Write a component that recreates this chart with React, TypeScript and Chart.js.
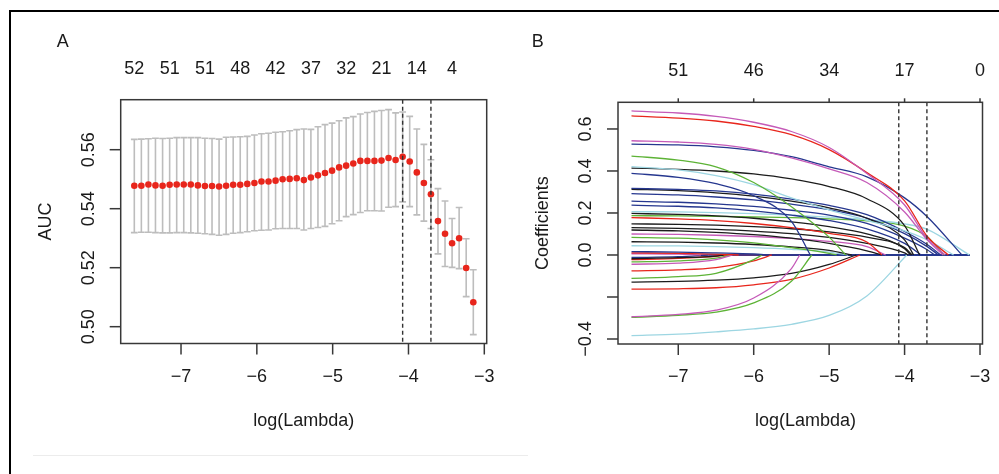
import React, { useEffect, useRef } from "react";
import { Chart, registerables } from "chart.js";

Chart.register(...registerables);

// ---------- Panel A: cross-validated AUC ----------
const logLambdaA = [
  -7.616, -7.523, -7.43, -7.337, -7.243, -7.15, -7.057, -6.964, -6.871, -6.778,
  -6.685, -6.591, -6.498, -6.405, -6.312, -6.219, -6.126, -6.032, -5.939, -5.846,
  -5.753, -5.66, -5.567, -5.474, -5.38, -5.287, -5.194, -5.101, -5.008, -4.915,
  -4.822, -4.728, -4.635, -4.542, -4.449, -4.356, -4.263, -4.17, -4.077, -3.984,
  -3.89, -3.797, -3.704, -3.611, -3.518, -3.425, -3.332, -3.239, -3.145,
];
const aucMean = [
  0.5478, 0.5478, 0.5482, 0.5479, 0.5478, 0.5481, 0.5482, 0.5482, 0.5482, 0.5479,
  0.5477, 0.5477, 0.5475, 0.5478, 0.5481, 0.5481, 0.5484, 0.5487, 0.5492, 0.5492,
  0.5495, 0.55, 0.5501, 0.5503, 0.5497, 0.5506, 0.5513, 0.5521, 0.5529, 0.554,
  0.5546, 0.5553, 0.5562, 0.5562, 0.5562, 0.5563, 0.5572, 0.5565, 0.5576, 0.556,
  0.5523, 0.5487, 0.5449, 0.5358, 0.5315, 0.5283, 0.53, 0.5199, 0.5083,
];
const aucUpper = [
  0.5635, 0.5636, 0.5637, 0.5639, 0.5638, 0.5639, 0.5641, 0.5641, 0.5641, 0.5641,
  0.5639, 0.5638, 0.5636, 0.5642, 0.5643, 0.5644, 0.5645, 0.565, 0.5654, 0.5656,
  0.5659, 0.5661, 0.5664, 0.5668, 0.567, 0.5669, 0.5678, 0.5685, 0.569, 0.5698,
  0.5708, 0.5712, 0.5721, 0.5726, 0.573, 0.5733, 0.5736, 0.5725, 0.5728, 0.5713,
  0.567, 0.5618, 0.5566, 0.5468, 0.5426, 0.5367, 0.5404, 0.5298, 0.5193,
];
const aucLower = [
  0.5319, 0.532, 0.532, 0.5319, 0.5318, 0.5318, 0.5319, 0.5319, 0.5318, 0.5317,
  0.5315, 0.5313, 0.531, 0.5313, 0.5317, 0.5319, 0.5322, 0.5325, 0.5327, 0.5328,
  0.5332, 0.5333, 0.5333, 0.5333, 0.5328, 0.5333, 0.5336, 0.534, 0.5349, 0.5359,
  0.5373, 0.538, 0.5387, 0.5393, 0.5393, 0.5392, 0.5405, 0.5407, 0.5423, 0.5407,
  0.5379, 0.5358, 0.5333, 0.5247, 0.5204, 0.5201, 0.5197, 0.5102, 0.4973,
];
const topPosA = [-7.616, -7.15, -6.685, -6.219, -5.753, -5.287, -4.822, -4.356, -3.89, -3.425];
const topLabelsA = ["52", "51", "51", "48", "42", "37", "32", "21", "14", "4"];
const yTicksA = [0.5, 0.52, 0.54, 0.56];
const yTickLabelsA = ["0.50", "0.52", "0.54", "0.56"];

// ---------- shared ----------
const xTicks = [-7, -6, -5, -4, -3];
const xTickLabels = ["\u22127", "\u22126", "\u22125", "\u22124", "\u22123"];
const lambdaMinLog = -4.077;
const lambda1seLog = -3.704;

// ---------- Panel B: coefficient paths ----------
const topPosB = [-7, -6, -5, -4, -3];
const topLabelsB = ["51", "46", "34", "17", "0"];
const yTicksB = [-0.4, -0.2, 0, 0.2, 0.4, 0.6];
const yTickLabelsB = ["\u22120.4", "", "0.0", "0.2", "0.4", "0.6"];

const coefGrid = [-7.62, -7.0, -6.5, -6.0, -5.5, -5.0, -4.5, -4.0, -3.7];
const lastLogLambda = -3.14;

const K = "#1c1c1c";
const R = "#E8261C";
const G = "#5DB336";
const N = "#26378F";
const C = "#9DD6E2";
const M = "#C55AB8";

const pathColors = [
  M, R, M, N, G, C, K, N, N, K, N, N, N, C, K, G, R, K, K, K, M, G, K, C, N, R, M,
  C, M, G, R, K, G, R, M, G, K, N, R,
];
const pathValues: number[][] = [
  [0.686, 0.676, 0.66, 0.632, 0.588, 0.512, 0.388, 0.238, 0.078],
  [0.662, 0.652, 0.638, 0.612, 0.573, 0.502, 0.392, 0.258, 0.088],
  [0.544, 0.538, 0.527, 0.503, 0.462, 0.41, 0.345, 0.205, 0.072],
  [0.528, 0.524, 0.515, 0.498, 0.468, 0.42, 0.372, 0.272, 0.182],
  [0.471, 0.452, 0.42, 0.345, 0.23, 0.085],
  [0.421, 0.405, 0.378, 0.335, 0.272, 0.215, 0.165, 0.115, 0.072],
  [0.414, 0.408, 0.4, 0.386, 0.362, 0.326, 0.268, 0.14],
  [0.389, 0.37, 0.34, 0.282, 0.16],
  [0.317, 0.312, 0.305, 0.29, 0.266, 0.236, 0.192, 0.112, 0.05],
  [0.313, 0.306, 0.296, 0.28, 0.256, 0.224, 0.175, 0.072],
  [0.292, 0.286, 0.276, 0.262, 0.242, 0.216, 0.176, 0.102, 0.04],
  [0.256, 0.251, 0.243, 0.231, 0.213, 0.19, 0.15, 0.08, 0.025],
  [0.237, 0.232, 0.224, 0.21, 0.19, 0.164, 0.124, 0.055],
  [0.206, 0.205, 0.202, 0.197, 0.19, 0.18, 0.168, 0.148, 0.122],
  [0.198, 0.193, 0.186, 0.175, 0.158, 0.135, 0.1, 0.03],
  [0.187, 0.186, 0.184, 0.181, 0.178, 0.172, 0.162, 0.138, 0.087],
  [0.178, 0.172, 0.164, 0.15, 0.13, 0.103, 0.062],
  [0.148, 0.146, 0.142, 0.135, 0.125, 0.11, 0.085, 0.035],
  [0.13, 0.127, 0.122, 0.114, 0.102, 0.084, 0.055, 0.01],
  [0.119, 0.115, 0.108, 0.097, 0.08, 0.055, 0.02],
  [0.1, 0.098, 0.094, 0.088, 0.079, 0.065, 0.04],
  [0.084, 0.08, 0.072, 0.058, 0.035, 0.008],
  [0.063, 0.061, 0.057, 0.05, 0.039, 0.022],
  [0.044, 0.043, 0.04, 0.035, 0.027, 0.014],
  [0.016, 0.014, 0.01, 0.005],
  [0.01, 0.008, 0.004],
  [0.006, 0.004],
  [-0.384, -0.377, -0.366, -0.352, -0.33, -0.288, -0.195],
  [-0.294, -0.283, -0.263, -0.205, -0.065],
  [-0.297, -0.287, -0.272, -0.228, -0.125],
  [-0.163, -0.161, -0.156, -0.142, -0.116, -0.062],
  [-0.129, -0.126, -0.12, -0.109, -0.088, -0.045],
  [-0.111, -0.103, -0.087, -0.022],
  [-0.076, -0.071, -0.06, -0.028],
  [-0.044, -0.039, -0.022],
  [-0.033, -0.028, -0.015],
  [-0.018, -0.013, -0.005],
  [-0.012, -0.008],
  [-0.022, -0.016, -0.006],
];
const pathZeroAt = [
  -3.46, -3.42, -3.49, -3.24, -4.78, -3.35, -3.8, -5.25, -3.52, -3.88, -3.55, -3.6,
  -3.78, -3.14, -3.92, -3.48, -4.3, -3.9, -3.95, -4.3, -4.25, -4.9, -4.7, -4.75,
  -5.8, -6.2, -6.7, -3.97, -5.39, -5.23, -4.59, -4.64, -5.89, -5.76, -6.28, -6.3,
  -6.4, -6.6, -6.35,
];

const FONT = '18px "Liberation Sans", Arial, Helvetica, sans-serif';
const TEXT = "#1a1a1a";

const rAxesPlugin = {
  id: "rAxes",
  afterDatasetsDraw(chart: any, _args: any, o: any) {
    const { ctx, chartArea: ca } = chart;
    const xs = chart.scales.x;
    const ys = chart.scales.y;
    const seg = (x1: number, y1: number, x2: number, y2: number) => {
      ctx.beginPath();
      ctx.moveTo(x1, y1);
      ctx.lineTo(x2, y2);
      ctx.stroke();
    };
    ctx.save();
    // dashed reference lines
    ctx.strokeStyle = "#333";
    ctx.lineWidth = 1.4;
    ctx.setLineDash([4, 3]);
    for (const v of o.vlines) {
      const px = xs.getPixelForValue(v);
      seg(px, ca.top, px, ca.bottom);
    }
    ctx.setLineDash([]);
    // box
    ctx.strokeStyle = "#383838";
    ctx.lineWidth = 1.5;
    ctx.strokeRect(ca.left, ca.top, ca.right - ca.left, ca.bottom - ca.top);
    ctx.font = FONT;
    ctx.fillStyle = TEXT;
    ctx.textAlign = "center";
    ctx.textBaseline = "middle";
    // bottom axis
    o.xTicks.forEach((v: number, i: number) => {
      const px = xs.getPixelForValue(v);
      seg(px, ca.bottom, px, ca.bottom + o.tickLen);
      ctx.fillText(o.xTickLabels[i], px, o.xLabelY);
    });
    // left axis
    o.yTicks.forEach((v: number, i: number) => {
      const py = ys.getPixelForValue(v);
      seg(ca.left - o.tickLen, py, ca.left, py);
      const lab = o.yTickLabels[i];
      if (lab) {
        ctx.save();
        ctx.translate(ca.left + o.yLabelDx, py);
        ctx.rotate(-Math.PI / 2);
        ctx.fillText(lab, 0, 0);
        ctx.restore();
      }
    });
    // top axis
    o.topPos.forEach((v: number, i: number) => {
      const px = xs.getPixelForValue(v);
      if (o.topTickLen) seg(px, ca.top - o.topTickLen, px, ca.top);
      ctx.fillText(o.topLabels[i], px, o.topLabelY);
    });
    // titles
    ctx.fillText(o.xTitle, o.xTitleX, o.xTitleY);
    ctx.save();
    ctx.translate(ca.left + o.yTitleDx, (ca.top + ca.bottom) / 2);
    ctx.rotate(-Math.PI / 2);
    ctx.fillText(o.yTitle, 0, 0);
    ctx.restore();
    ctx.fillText(o.letter, o.letterX, o.letterY);
    ctx.restore();
  },
};

const errorBarPlugin = {
  id: "errBars",
  beforeDatasetsDraw(chart: any) {
    const { ctx } = chart;
    const xs = chart.scales.x;
    const ys = chart.scales.y;
    ctx.save();
    ctx.strokeStyle = "#BDBDBD";
    ctx.lineWidth = 1.6;
    logLambdaA.forEach((lx, i) => {
      const px = xs.getPixelForValue(lx);
      const pu = ys.getPixelForValue(aucUpper[i]);
      const pl = ys.getPixelForValue(aucLower[i]);
      ctx.beginPath();
      ctx.moveTo(px, pu);
      ctx.lineTo(px, pl);
      ctx.moveTo(px - 3.4, pu);
      ctx.lineTo(px + 3.4, pu);
      ctx.moveTo(px - 3.4, pl);
      ctx.lineTo(px + 3.4, pl);
      ctx.stroke();
    });
    ctx.restore();
  },
};

function PanelA() {
  const ref = useRef<HTMLCanvasElement | null>(null);
  useEffect(() => {
    if (!ref.current) return;
    const chart = new Chart(ref.current, {
      type: "scatter",
      data: {
        datasets: [
          {
            data: logLambdaA.map((x, i) => ({ x, y: aucMean[i] })),
            backgroundColor: "#E8261C",
            borderColor: "#E8261C",
            borderWidth: 0,
            pointRadius: 3.3,
          },
        ],
      },
      options: {
        animation: false,
        responsive: false,
        devicePixelRatio: 1,
        layout: { padding: { left: 120.7, top: 99.7, right: 13.3, bottom: 130.5 } },
        scales: {
          x: { type: "linear", min: -7.7955, max: -2.9684, display: false },
          y: { type: "linear", min: 0.4943, max: 0.57695, display: false },
        },
        plugins: {
          legend: { display: false },
          tooltip: { enabled: false },
          rAxes: {
            vlines: [lambdaMinLog, lambda1seLog],
            xTicks,
            xTickLabels,
            yTicks: yTicksA,
            yTickLabels: yTickLabelsA,
            topPos: topPosA,
            topLabels: topLabelsA,
            topTickLen: 0,
            tickLen: 11,
            xLabelY: 377.5,
            yLabelDx: -31.7,
            topLabelY: 69,
            xTitle: "log(Lambda)",
            xTitleX: 303.7,
            xTitleY: 420.7,
            yTitle: "AUC",
            yTitleDx: -75,
            letter: "A",
            letterX: 62.7,
            letterY: 41.7,
          },
        } as any,
      },
      plugins: [errorBarPlugin, rAxesPlugin],
    });
    return () => chart.destroy();
  }, []);
  return (
    <canvas
      ref={ref}
      width={500}
      height={474}
      style={{ position: "absolute", left: 0, top: 0, width: 500, height: 474 }}
    />
  );
}

function PanelB() {
  const ref = useRef<HTMLCanvasElement | null>(null);
  useEffect(() => {
    if (!ref.current) return;
    const datasets: any[] = [];
    pathValues.forEach((vals, i) => {
      const pts = vals.map((v, j) => ({ x: coefGrid[j], y: v }));
      pts.push({ x: pathZeroAt[i], y: 0 });
      datasets.push({
        data: pts,
        showLine: true,
        borderColor: pathColors[i],
        borderWidth: 1.3,
        pointRadius: 0,
        cubicInterpolationMode: "monotone",
        order: 0,
      });
    });
    const tailIdx = pathValues
      .map((_, i) => i)
      .sort((a, b) => (pathColors[a] === N ? 0 : 1) - (pathColors[b] === N ? 0 : 1));
    tailIdx.forEach((i) => {
      datasets.push({
        data: [
          { x: pathZeroAt[i], y: 0 },
          { x: lastLogLambda, y: 0 },
        ],
        showLine: true,
        borderColor: pathColors[i],
        borderWidth: 1.3,
        pointRadius: 0,
        tension: 0,
        order: 1,
      });
    });
    const chart = new Chart(ref.current, {
      type: "scatter",
      data: { datasets },
      options: {
        animation: false,
        responsive: false,
        devicePixelRatio: 1,
        layout: { padding: { left: 118, top: 102.3, right: 16.5, bottom: 130 } },
        scales: {
          x: { type: "linear", min: -7.799, max: -2.967, display: false },
          y: { type: "linear", min: -0.4238, max: 0.727, display: false },
        },
        plugins: {
          legend: { display: false },
          tooltip: { enabled: false },
          rAxes: {
            vlines: [lambdaMinLog, lambda1seLog],
            xTicks,
            xTickLabels,
            yTicks: yTicksB,
            yTickLabels: yTickLabelsB,
            topPos: topPosB,
            topLabels: topLabelsB,
            topTickLen: 4,
            tickLen: 11,
            xLabelY: 377.5,
            yLabelDx: -31.6,
            topLabelY: 70.7,
            xTitle: "log(Lambda)",
            xTitleX: 305.5,
            xTitleY: 420.7,
            yTitle: "Coefficients",
            yTitleDx: -75.3,
            letter: "B",
            letterX: 37.7,
            letterY: 41.7,
          },
        } as any,
      },
      plugins: [rAxesPlugin],
    });
    return () => chart.destroy();
  }, []);
  return (
    <canvas
      ref={ref}
      width={499}
      height={474}
      style={{ position: "absolute", left: 500, top: 0, width: 499, height: 474 }}
    />
  );
}

export default function App() {
  return (
    <div
      style={{
        position: "fixed",
        left: 0,
        top: 0,
        width: 999,
        height: 474,
        background: "#fff",
        overflow: "hidden",
      }}
    >
      <div style={{ position: "absolute", left: 9, top: 10, width: 990, height: 2, background: "#000" }} />
      <div style={{ position: "absolute", left: 9, top: 10, width: 2, height: 464, background: "#000" }} />
      <div style={{ position: "absolute", left: 33, top: 455, width: 495, height: 1, background: "#ececec" }} />
      <PanelA />
      <PanelB />
    </div>
  );
}
